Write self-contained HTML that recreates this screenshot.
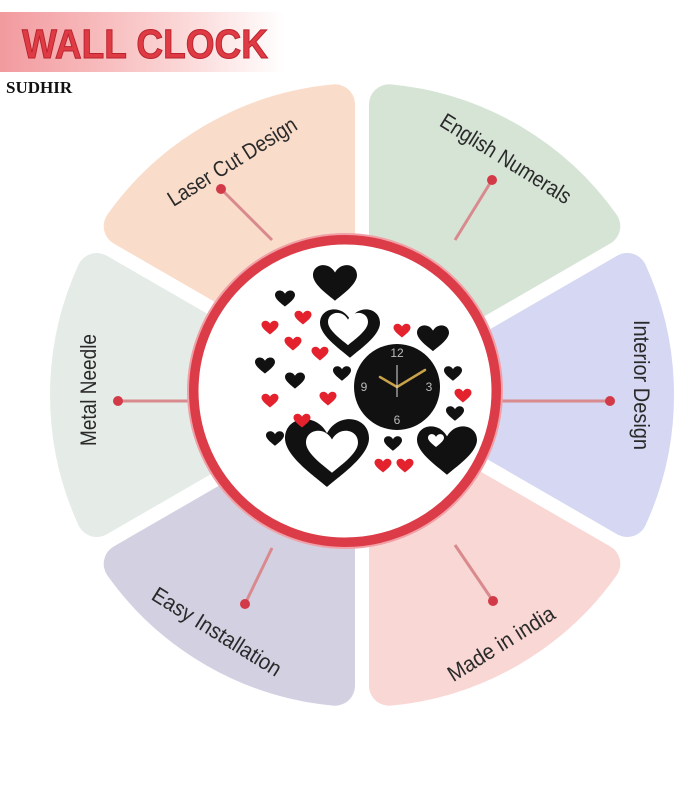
<!DOCTYPE html>
<html><head><meta charset="utf-8"><style>
html,body{margin:0;padding:0;background:#fff;width:679px;height:789px;overflow:hidden}
svg{display:block}
.lbl{font-family:"Liberation Sans Narrow","Liberation Sans",sans-serif;font-size:22px;fill:#2a2a2a;text-anchor:middle;dominant-baseline:middle}
</style></head><body>
<svg id="s" width="679" height="789" viewBox="0 0 679 789" xmlns="http://www.w3.org/2000/svg">
<defs>
<linearGradient id="hb" x1="0" x2="1" y1="0" y2="0">
<stop offset="0" stop-color="#f29a9e"/><stop offset="0.6" stop-color="#fbd3d3"/><stop offset="1" stop-color="#ffffff"/>
</linearGradient>
<path id="h" d="M0,0.38 C-0.12,0.27 -0.5,0.02 -0.5,-0.2 C-0.5,-0.46 -0.14,-0.52 0,-0.26 C0.14,-0.52 0.5,-0.46 0.5,-0.2 C0.5,0.02 0.12,0.27 0,0.38Z"/>
</defs>
<rect x="0" y="12" width="285" height="60" fill="url(#hb)"/>
<text x="22" y="58" font-family="Liberation Sans,sans-serif" font-weight="bold" font-size="41" fill="#df3b45" stroke="#b8232d" stroke-width="1" textLength="246" lengthAdjust="spacingAndGlyphs">WALL CLOCK</text>
<text x="6" y="93" font-family="Liberation Serif,serif" font-weight="bold" font-size="17" fill="#111">SUDHIR</text>
<g id="petals"></g>
<g stroke="#d98a8e" stroke-width="3">
<line x1="118" y1="401" x2="188" y2="401"/><line x1="610" y1="401" x2="502" y2="401"/>
<line x1="221" y1="189" x2="272" y2="240"/><line x1="492" y1="180" x2="455" y2="240"/>
<line x1="245" y1="604" x2="272" y2="548"/><line x1="493" y1="601" x2="455" y2="545"/>
</g>
<g fill="#d23a48">
<circle cx="118" cy="401" r="5"/><circle cx="610" cy="401" r="5"/><circle cx="221" cy="189" r="5"/>
<circle cx="492" cy="180" r="5"/><circle cx="245" cy="604" r="5"/><circle cx="493" cy="601" r="5"/>
</g>
<text class="lbl" transform="translate(233,163) rotate(-32)" textLength="148" lengthAdjust="spacingAndGlyphs">Laser Cut Design</text>
<text class="lbl" transform="translate(505,160) rotate(32)" textLength="150" lengthAdjust="spacingAndGlyphs">English Numerals</text>
<text class="lbl" transform="translate(640,385) rotate(90)" textLength="130" lengthAdjust="spacingAndGlyphs">Interior Design</text>
<text class="lbl" transform="translate(502,645) rotate(-32)" textLength="122" lengthAdjust="spacingAndGlyphs">Made in india</text>
<text class="lbl" transform="translate(216,633) rotate(32)" textLength="148" lengthAdjust="spacingAndGlyphs">Easy Installation</text>
<text class="lbl" transform="translate(90,390) rotate(-90)" textLength="112" lengthAdjust="spacingAndGlyphs">Metal Needle</text>
<circle cx="345" cy="391" r="152" fill="#fff" stroke="#dc3c48" stroke-width="11"/>
<circle cx="345" cy="391" r="157" fill="none" stroke="#f0a0a6" stroke-width="2"/>
<g fill="#111">
<use href="#h" transform="translate(335,284) scale(44)"/>
<use href="#h" transform="translate(285,299) scale(20)"/>
<use href="#h" transform="translate(433,339) scale(32)"/>
<use href="#h" transform="translate(265,366) scale(20)"/>
<use href="#h" transform="translate(342,374) scale(18)"/>
<use href="#h" transform="translate(295,381) scale(20)"/>
<use href="#h" transform="translate(453,374) scale(18)"/>
<use href="#h" transform="translate(455,414) scale(18)"/>
<use href="#h" transform="translate(275,439) scale(18)"/>
<use href="#h" transform="translate(393,444) scale(18)"/>
<use href="#h" transform="translate(327,455) scale(84)"/>
<use href="#h" transform="translate(447,452) scale(60)"/>
<use href="#h" transform="translate(350,335) scale(60)"/>
</g>
<g fill="#fff">
<use href="#h" transform="translate(348,330) scale(40)"/>
<use href="#h" transform="translate(332,453) scale(52)"/>
<use href="#h" transform="translate(436,441) scale(16)"/>
</g>
<g fill="#e3222e">
<use href="#h" transform="translate(303,318) scale(17)"/>
<use href="#h" transform="translate(270,328) scale(17)"/>
<use href="#h" transform="translate(402,331) scale(17)"/>
<use href="#h" transform="translate(293,344) scale(17)"/>
<use href="#h" transform="translate(320,354) scale(17)"/>
<use href="#h" transform="translate(270,401) scale(17)"/>
<use href="#h" transform="translate(328,399) scale(17)"/>
<use href="#h" transform="translate(463,396) scale(17)"/>
<use href="#h" transform="translate(302,421) scale(17)"/>
<use href="#h" transform="translate(383,466) scale(17)"/>
<use href="#h" transform="translate(405,466) scale(17)"/>
</g>
<circle cx="397" cy="387" r="43" fill="#111"/>
<g font-family="Liberation Sans,sans-serif" font-size="12" fill="#bbb" text-anchor="middle">
<text x="397" y="357">12</text><text x="429" y="391">3</text><text x="397" y="424">6</text><text x="364" y="391">9</text>
</g>
<g stroke="#c9a24a" stroke-width="2.5" stroke-linecap="round">
<line x1="397" y1="387" x2="380" y2="377"/><line x1="397" y1="387" x2="425" y2="370"/>
</g>
<line x1="397" y1="365" x2="397" y2="397" stroke="#ddd" stroke-width="1"/>
</svg>
<script>
(function(){
var cx=362,cy=395,R=292,ri=70,d=27;
var specs=[[180,"#e5ece7"],[240,"#f9ddca"],[300,"#d6e4d6"],[0,"#d5d7f3"],[60,"#f9d7d4"],[120,"#d3d0e2"]];
var g=document.getElementById('petals'),out='';
function p(r,a){a=a*Math.PI/180;return (cx+r*Math.cos(a)).toFixed(1)+','+(cy+r*Math.sin(a)).toFixed(1);}
specs.forEach(function(s){
var a=s[0],b1=a-30,b2=a+30;
var oo=Math.asin(d/R)*180/Math.PI,io=Math.asin(d/ri)*180/Math.PI;
var path='M'+p(ri,b1+io)+' L'+p(R,b1+oo)+' A'+R+','+R+' 0 0 1 '+p(R,b2-oo)+' L'+p(ri,b2-io)+' Z';
out+='<path d="'+path+'" fill="'+s[1]+'" stroke="'+s[1]+'" stroke-width="40" stroke-linejoin="round"/>';
});
g.innerHTML=out;
})();
</script>
</body></html>
